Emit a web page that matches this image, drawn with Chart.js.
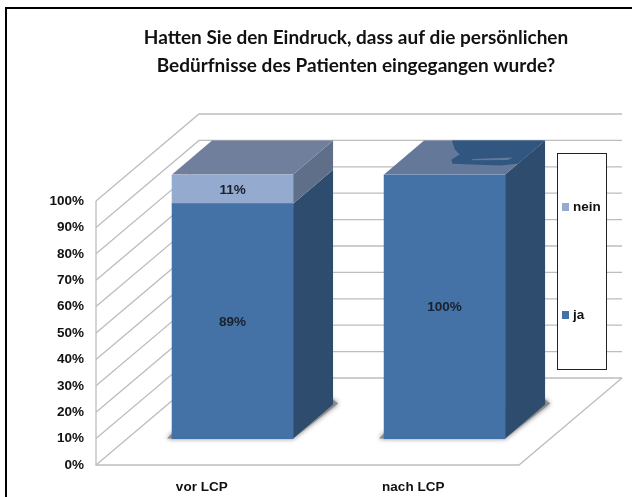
<!DOCTYPE html>
<html lang="de">
<head>
<meta charset="utf-8">
<title>Persönliche Bedürfnisse</title>
<script src="https://cdn.jsdelivr.net/npm/chart.js@4/dist/chart.umd.min.js"></script>
<style>
  html, body { margin: 0; background: #fff; }
  #frame { position: absolute; left: 5px; top: 7px; right: 0; bottom: 0; border-left: 2px solid #000; border-top: 2px solid #000; }
  #chart { position: absolute; left: 0; top: 0; display: block; }
</style>
</head>
<body>
<div id="frame"></div>
<canvas id="chart" width="632" height="497"></canvas>
<script>
const titleLines = ['Hatten Sie den Eindruck, dass auf die persönlichen', 'Bedürfnisse des Patienten eingegangen wurde?'];
const categories = ['vor LCP', 'nach LCP'];
const jaValues = [89, 100];
const neinValues = [11, 0];

const LABEL_FAMILY = '"Liberation Sans", Arial, sans-serif';
const LABEL_SIZE = 13.5;
const LABEL_FONT = 'bold ' + LABEL_SIZE + 'px ' + LABEL_FAMILY;
const WALL_DEPTH = { x: 103, y: 87 };
const BAR_DEPTH = { x: 40, y: 34 };
const GRID_COLOR = '#bdbdbd';
const FACE_COLORS = {
  ja: { side: '#2e4c6e', top: '#64789a' },
  nein: { side: '#5f6f8a', top: '#6f7f9c' },
};
// the odd dark patch on top of the second bar, in fractions of width and depth
const topPatch = [[0.23, 1], [0.34, 0.74], [0.43, 0.59], [0.41, 0.44], [0.46, 0.32], [0.87, 0.27], [1, 0.32], [1, 1]];
const topStreak = [[0.58, 0.46], [0.9, 0.5], [0.88, 0.43], [0.58, 0.42]];

function polygon(ctx, pts, fill) {
  ctx.beginPath();
  pts.forEach((p, i) => (i ? ctx.lineTo(p[0], p[1]) : ctx.moveTo(p[0], p[1])));
  ctx.closePath();
  ctx.fillStyle = fill;
  ctx.fill();
}

const wallsPlugin = {
  id: 'walls',
  beforeDatasetsDraw(chart) {
    const { ctx, scales } = chart;
    const left = scales.x.left;
    const right = scales.x.right;
    const y0 = scales.y.getPixelForValue(0);
    ctx.save();
    ctx.strokeStyle = GRID_COLOR;
    ctx.lineWidth = 1.3;
    scales.y.ticks.forEach(t => {
      const py = scales.y.getPixelForValue(t.value);
      ctx.beginPath();
      ctx.moveTo(left, py);
      ctx.lineTo(left + WALL_DEPTH.x, py - WALL_DEPTH.y);
      ctx.lineTo(right + WALL_DEPTH.x, py - WALL_DEPTH.y);
      ctx.stroke();
    });
    ctx.beginPath();
    ctx.moveTo(left, scales.y.getPixelForValue(100));
    ctx.lineTo(left, y0);
    ctx.lineTo(right, y0);
    ctx.lineTo(right + WALL_DEPTH.x, y0 - WALL_DEPTH.y);
    ctx.stroke();
    ctx.restore();
  },
};

const barFacesPlugin = {
  id: 'barFaces',
  beforeDatasetsDraw(chart) {
    const { ctx } = chart;
    const jaBars = chart.getDatasetMeta(0).data;
    const neinBars = chart.getDatasetMeta(1).data;
    const dx = BAR_DEPTH.x;
    const dy = BAR_DEPTH.y;

    jaBars.forEach((bar, i) => {
      const l = bar.x - bar.width / 2;
      const r = bar.x + bar.width / 2;
      const base = bar.base;
      // floor shadow
      ctx.save();
      ctx.shadowColor = 'rgba(0,0,0,0.55)';
      ctx.shadowBlur = 5;
      polygon(ctx, [[l - 5, base], [r, base], [r + dx + 5, base - dy - 1], [r + dx, base - dy - 5], [l, base - 5]], '#8a8a8a');
      ctx.restore();

      polygon(ctx, [[r, bar.y], [r + dx, bar.y - dy], [r + dx, base - dy], [r, base]], FACE_COLORS.ja.side);
      const nein = neinBars[i];
      const hasNein = neinValues[i] > 0;
      if (hasNein) {
        polygon(ctx, [[r, nein.y], [r + dx, nein.y - dy], [r + dx, nein.base - dy], [r, nein.base]], FACE_COLORS.nein.side);
      }
      const topY = hasNein ? nein.y : bar.y;
      const topColor = hasNein ? FACE_COLORS.nein.top : FACE_COLORS.ja.top;
      polygon(ctx, [[l, topY], [r, topY], [r + dx, topY - dy], [l + dx, topY - dy]], topColor);
      if (!hasNein) {
        const toPx = p => [l + p[0] * bar.width + p[1] * dx, topY - p[1] * dy];
        polygon(ctx, topPatch.map(toPx), '#31567f');
        polygon(ctx, topStreak.map(toPx), '#64789a');
      }
    });
  },
};

const valueLabelsPlugin = {
  id: 'valueLabels',
  afterDatasetsDraw(chart) {
    const { ctx } = chart;
    ctx.save();
    ctx.font = LABEL_FONT;
    ctx.fillStyle = '#18212c';
    ctx.textAlign = 'center';
    ctx.textBaseline = 'middle';
    chart.data.datasets.forEach((ds, d) => {
      chart.getDatasetMeta(d).data.forEach((bar, i) => {
        const v = ds.data[i].y;
        if (v > 0) ctx.fillText(v + '%', bar.x, (bar.y + bar.base) / 2 + 1);
      });
    });
    ctx.restore();
  },
};

const legendBoxPlugin = {
  id: 'legendBox',
  afterDraw(chart) {
    const { ctx } = chart;
    const boxX = 557, boxY = 153, boxW = 49, boxH = 216;
    const rows = [[1, 207], [0, 315]];
    ctx.save();
    ctx.fillStyle = '#fff';
    ctx.fillRect(boxX, boxY, boxW, boxH);
    ctx.strokeStyle = '#222';
    ctx.lineWidth = 1;
    ctx.strokeRect(boxX + 0.5, boxY + 0.5, boxW, boxH);
    ctx.font = LABEL_FONT;
    ctx.textBaseline = 'middle';
    rows.forEach(([d, y]) => {
      const ds = chart.data.datasets[d];
      ctx.fillStyle = ds.backgroundColor;
      ctx.fillRect(562, y - 4, 7, 8);
      ctx.fillStyle = '#111';
      ctx.fillText(ds.label, 573, y);
    });
    ctx.restore();
  },
};

new Chart(document.getElementById('chart'), {
  type: 'bar',
  data: {
    datasets: [
      {
        label: 'ja',
        data: jaValues.map((v, i) => ({ x: i, y: v })),
        backgroundColor: '#4472a7',
        xAxisID: 'xBars',
        yAxisID: 'yBars',
        barThickness: 121,
      },
      {
        label: 'nein',
        data: neinValues.map((v, i) => ({ x: i, y: v })),
        backgroundColor: '#95aacf',
        xAxisID: 'xBars',
        yAxisID: 'yBars',
        barThickness: 121,
      },
    ],
  },
  plugins: [wallsPlugin, barFacesPlugin, valueLabelsPlugin, legendBoxPlugin],
  options: {
    responsive: false,
    animation: false,
    // negative right padding pulls the title's centre to the right, as in the original
    layout: { padding: { left: 0, right: -80, top: 0, bottom: 0 } },
    plugins: {
      legend: { display: false },
      tooltip: { enabled: false },
      title: {
        display: true,
        text: titleLines,
        color: '#111',
        font: { family: 'Lato, Carlito, sans-serif', size: 19, weight: 'bold', lineHeight: 1.474 },
        padding: { top: 24, bottom: 94.6 },
      },
    },
    scales: {
      x: {
        type: 'category',
        labels: categories,
        offset: true,
        grid: { display: false, drawTicks: false },
        border: { display: false },
        ticks: { color: '#111', font: { family: LABEL_FAMILY, size: LABEL_SIZE, weight: 'bold' }, padding: 14, maxRotation: 0 },
        afterFit(scale) { scale.height = 32; },
      },
      y: {
        type: 'linear',
        min: 0,
        max: 110,
        grid: { display: false, drawTicks: false },
        border: { display: false },
        ticks: {
          stepSize: 10,
          padding: 12,
          color: '#111',
          font: { family: LABEL_FAMILY, size: LABEL_SIZE, weight: 'bold' },
          callback: v => v + '%',
        },
        afterBuildTicks(scale) { scale.ticks = scale.ticks.filter(t => t.value <= 100); },
        afterFit(scale) { scale.width = 96; },
      },
      // bars stand further back on the floor, so they get their own shifted axes
      xBars: { type: 'linear', display: false, offset: false, min: -0.644, max: 1.351, stacked: true },
      yBars: {
        type: 'linear',
        position: 'right',
        min: -10,
        max: 100,
        stacked: true,
        grid: { display: false, drawTicks: false },
        border: { display: false },
        ticks: { display: false },
        afterFit(scale) { scale.width = 193; },
      },
    },
  },
});
</script>
</body>
</html>
